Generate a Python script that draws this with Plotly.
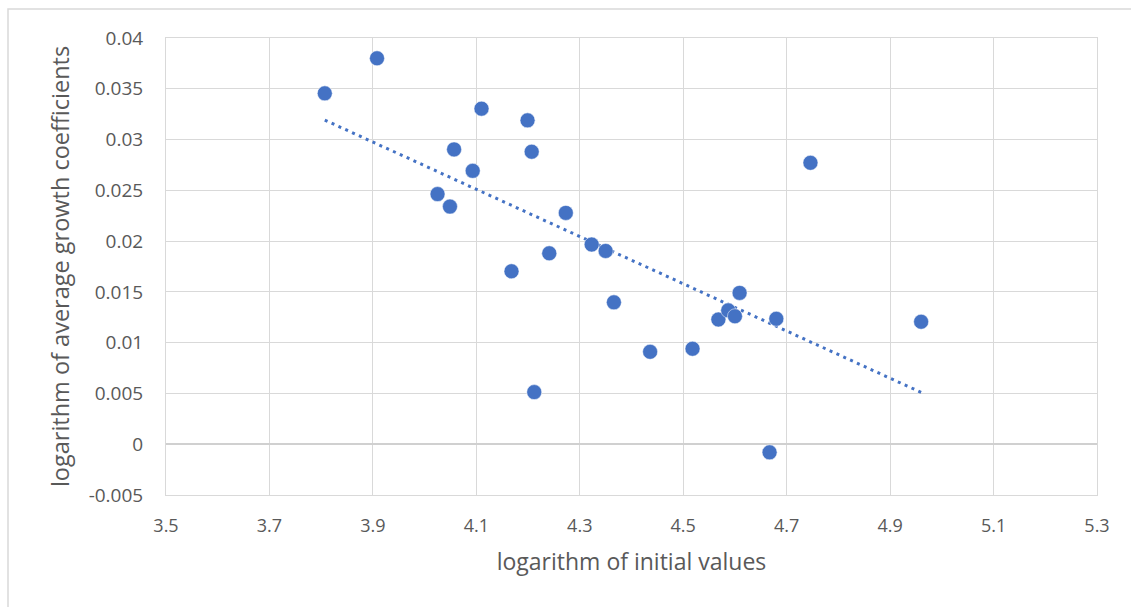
import numpy as np
import plotly.graph_objects as go

# data
log_initial = [3.807, 3.908, 4.110, 4.199, 4.057, 4.207, 4.093, 4.025, 4.049, 4.273,
               4.323, 4.350, 4.241, 4.168, 4.366, 4.609, 4.568, 4.587, 4.600, 4.680,
               4.960, 4.436, 4.518, 4.212, 4.667, 4.746]
log_growth = [0.03455, 0.0380, 0.03304, 0.03189, 0.02903, 0.0288, 0.02692, 0.02463, 0.0234, 0.02278,
              0.01966, 0.01903, 0.0188, 0.01703, 0.01397, 0.01490, 0.01228, 0.01318, 0.01260, 0.01235,
              0.01206, 0.0091, 0.0094, 0.00513, -0.0008, 0.02771]

x_ticks = [3.5, 3.7, 3.9, 4.1, 4.3, 4.5, 4.7, 4.9, 5.1, 5.3]
y_ticks = [-0.005, 0, 0.005, 0.01, 0.015, 0.02, 0.025, 0.03, 0.035, 0.04]
x_tick_labels = ["3.5", "3.7", "3.9", "4.1", "4.3", "4.5", "4.7", "4.9", "5.1", "5.3"]
y_tick_labels = ["-0.005", "0", "0.005", "0.01", "0.015", "0.02", "0.025", "0.03", "0.035", "0.04"]

BLUE = "#4472C4"
GRID = "#d9d9d9"
TXT = "#595959"

xa = np.array(log_initial)
ya = np.array(log_growth)
slope, intercept = np.polyfit(xa, ya, 1)
tx = np.array([xa.min(), xa.max()])
ty = slope * tx + intercept

fig = go.Figure()
fig.add_trace(go.Scatter(x=tx, y=ty, mode="lines",
                         line=dict(color=BLUE, width=3, dash="3px,4.5px"),
                         hoverinfo="skip", showlegend=False))
fig.add_trace(go.Scatter(x=log_initial, y=log_growth, mode="markers",
                         marker=dict(color=BLUE, size=15, line=dict(color="white", width=0.5)),
                         showlegend=False))

fig.update_layout(
    width=1131, height=607,
    margin=dict(l=166, r=34, t=38, b=112),
    paper_bgcolor="white", plot_bgcolor="white",
    font=dict(family="Open Sans", color=TXT),
    xaxis=dict(range=[3.5, 5.3], tickvals=x_ticks, ticktext=x_tick_labels,
               showgrid=True, gridcolor=GRID, gridwidth=1,
               zeroline=False, showline=True, linecolor=GRID, linewidth=1, mirror=True,
               tickfont=dict(family="Open Sans", size=18, color=TXT),
               ticks="outside", ticklen=14, tickcolor="rgba(0,0,0,0)",
               title=dict(text="logarithm of initial values",
                          font=dict(family="Open Sans", size=23, color=TXT), standoff=18)),
    yaxis=dict(range=[-0.005, 0.04], tickvals=y_ticks, ticktext=y_tick_labels,
               showgrid=True, gridcolor=GRID, gridwidth=1,
               zeroline=True, zerolinecolor="#d0d0d0", zerolinewidth=1.5,
               showline=True, linecolor=GRID, linewidth=1, mirror=True,
               tickfont=dict(family="Open Sans", size=19, color=TXT),
               ticks="outside", ticklen=18, tickcolor="rgba(0,0,0,0)",
               title=dict(text="logarithm of average growth coefficients",
                          font=dict(family="Open Sans", size=23.5, color=TXT), standoff=12)),
)

# outer chart border (top and left visible)
fig.add_shape(type="rect", xref="paper", yref="paper",
              x0=(8 - 166) / 931, x1=(1140 - 166) / 931,
              y0=(495 - 620) / 457, y1=(495 - 9) / 457,
              line=dict(color=GRID, width=1.5), layer="below")

fig.write_html("out.html")
